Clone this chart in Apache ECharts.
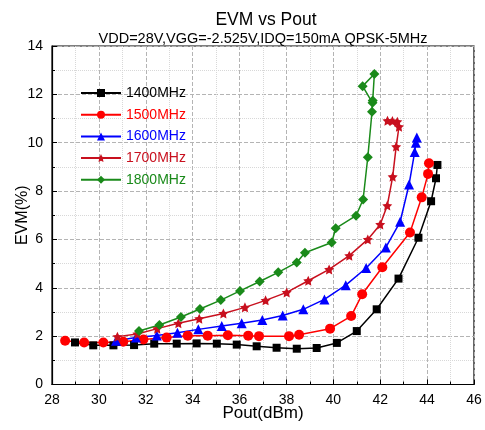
<!DOCTYPE html>
<html>
<head>
<meta charset="utf-8">
<script src="https://cdn.jsdelivr.net/npm/echarts@6/dist/echarts.min.js"></script>
<style>
  html, body { margin: 0; padding: 0; background: #fff; }
  #chart { width: 485px; height: 430px; }
</style>
</head>
<body>
<div id="chart"></div>
<script>
// series names and colors
const seriesNames = ['1400MHz', '1500MHz', '1600MHz', '1700MHz', '1800MHz']
const seriesColors = ['#000000', '#ff0000', '#0000ff', '#c8101e', '#1a8a1a']
const seriesSymbols = ['rect', 'circle', 'triangle', 'path://M0,-10 L2.9,-4 L9.5,-3.1 L4.7,1.5 L5.9,8.1 L0,5 L-5.9,8.1 L-4.7,1.5 L-9.5,-3.1 L-2.9,-4 Z', 'diamond']
const seriesSizes = [8, 10, 10, 10, 10]

// [Pout dBm, EVM %]
const evm1400 = [
  [28.98, 1.74], [29.76, 1.62], [30.62, 1.62], [31.5, 1.63], [32.36, 1.69],
  [33.32, 1.69], [34.17, 1.7], [35.03, 1.69], [35.88, 1.65], [36.73, 1.58],
  [37.58, 1.52], [38.44, 1.48], [39.29, 1.51], [40.15, 1.72], [41.0, 2.21],
  [41.85, 3.11], [42.78, 4.38], [43.63, 6.07], [44.17, 7.58], [44.38, 8.53],
  [44.44, 9.08]
]
const evm1500 = [
  [28.56, 1.81], [29.37, 1.74], [30.19, 1.74], [31.04, 1.77], [31.9, 1.86],
  [32.89, 1.94], [33.79, 2.02], [34.64, 2.02], [35.5, 2.04], [36.37, 2.02],
  [36.83, 2.0], [38.11, 2.0], [38.54, 2.06], [39.86, 2.31], [40.76, 2.83],
  [41.23, 3.73], [42.09, 4.85], [43.27, 6.29], [43.77, 7.74], [44.04, 8.71],
  [44.08, 9.15]
]
const evm1600 = [
  [30.73, 1.81], [31.58, 1.94], [32.47, 2.03], [33.35, 2.14], [34.24, 2.28],
  [35.24, 2.42], [36.09, 2.53], [36.97, 2.67], [37.84, 2.85], [38.72, 3.11],
  [39.62, 3.52], [40.53, 4.11], [41.4, 4.82], [42.24, 5.67], [42.85, 6.73],
  [43.23, 8.27], [43.47, 9.62], [43.52, 10.0], [43.56, 10.22]
]
const evm1700 = [
  [30.79, 1.98], [31.64, 2.09], [32.49, 2.31], [33.39, 2.53], [34.28, 2.72],
  [35.31, 2.94], [36.23, 3.19], [37.11, 3.48], [38.01, 3.81], [38.93, 4.29],
  [39.82, 4.76], [40.68, 5.33], [41.47, 6.0], [42.0, 6.62], [42.3, 7.4],
  [42.53, 8.59], [42.68, 9.84], [42.8, 10.66], [42.73, 10.87], [42.52, 10.9],
  [42.31, 10.91]
]
const evm1800 = [
  [31.71, 2.21], [32.58, 2.46], [33.5, 2.79], [34.31, 3.12], [35.2, 3.49],
  [36.02, 3.87], [36.86, 4.26], [37.65, 4.64], [38.44, 5.05], [38.79, 5.45],
  [39.93, 5.87], [40.1, 6.46], [40.97, 6.98], [41.27, 7.65], [41.47, 9.4],
  [41.65, 11.28], [41.67, 11.65], [41.25, 12.34], [41.75, 12.84], [41.68, 11.75]
]
const allData = [evm1400, evm1500, evm1600, evm1700, evm1800]

const chart = echarts.init(document.getElementById('chart'))

const font = 'Liberation Sans, Arial, sans-serif'

let series = seriesNames.map(function (name, i) {
  return {
    name: name,
    type: 'line',
    data: allData[i],
    symbol: seriesSymbols[i],
    symbolSize: seriesSizes[i],
    color: seriesColors[i],
    lineStyle: { width: 1.5, color: seriesColors[i] },
    itemStyle: { color: seriesColors[i] },
    animation: false,
  }
})

let option = {
  animation: false,
  title: [
    {
      text: 'EVM vs Pout',
      left: 266,
      top: 11,
      padding: 0,
      textAlign: 'center',
      textStyle: { fontFamily: font, fontSize: 17.5, fontWeight: 'normal', color: '#000' },
    },
    {
      text: 'VDD=28V,VGG=-2.525V,IDQ=150mA QPSK-5MHz',
      left: 263,
      top: 31,
      padding: 0,
      textAlign: 'center',
      textStyle: { fontFamily: font, fontSize: 14.5, fontWeight: 'normal', color: '#000' },
    },
  ],
  legend: {
    orient: 'vertical',
    left: 80,
    top: 86,
    padding: 0,
    itemWidth: 40,
    itemHeight: 10,
    itemGap: 7.7,
    textStyle: { fontFamily: font, fontSize: 14 },
    data: seriesNames.map(function (name, i) {
      return { name: name, textStyle: { color: seriesColors[i] } }
    }),
  },
  grid: {
    left: 52,
    right: 11,
    top: 46,
    bottom: 45.5,
    outerBoundsMode: 'none',
    containLabel: false,
    show: true,
    borderColor: '#000',
    borderWidth: 1.2,
  },
  xAxis: {
    type: 'value',
    min: 28,
    max: 46,
    interval: 2,
    name: 'Pout(dBm)',
    nameLocation: 'middle',
    nameGap: 20,
    nameMoveOverlap: false,
    nameTextStyle: { fontFamily: font, fontSize: 17, color: '#000' },
    axisLine: { show: true, lineStyle: { color: '#000', width: 1.2 } },
    axisTick: { show: true, inside: true, length: 5, lineStyle: { color: '#000' } },
    minorTick: { show: true, splitNumber: 2, length: 3, lineStyle: { color: '#000' } },
    axisLabel: { fontFamily: font, fontSize: 14, color: '#000', margin: 9 },
    splitLine: { show: true, lineStyle: { color: '#b4b4b4', type: 'dashed', width: 1 } },
    minorSplitLine: { show: true, lineStyle: { color: '#d8d8d8', type: 'dotted', width: 1 } },
  },
  yAxis: {
    type: 'value',
    min: 0,
    max: 14,
    interval: 2,
    name: 'EVM(%)',
    nameLocation: 'middle',
    nameGap: 21,
    nameMoveOverlap: false,
    nameTextStyle: { fontFamily: font, fontSize: 16, color: '#000' },
    axisLine: { show: true, lineStyle: { color: '#000', width: 1.2 } },
    axisTick: { show: true, inside: true, length: 5, lineStyle: { color: '#000' } },
    minorTick: { show: true, splitNumber: 2, length: 3, lineStyle: { color: '#000' } },
    axisLabel: { fontFamily: font, fontSize: 14, color: '#000', margin: 9 },
    splitLine: { show: true, lineStyle: { color: '#b4b4b4', type: 'dashed', width: 1 } },
    minorSplitLine: { show: true, lineStyle: { color: '#d8d8d8', type: 'dotted', width: 1 } },
  },
  series: series,
}

chart.setOption(option)
</script>
</body>
</html>
